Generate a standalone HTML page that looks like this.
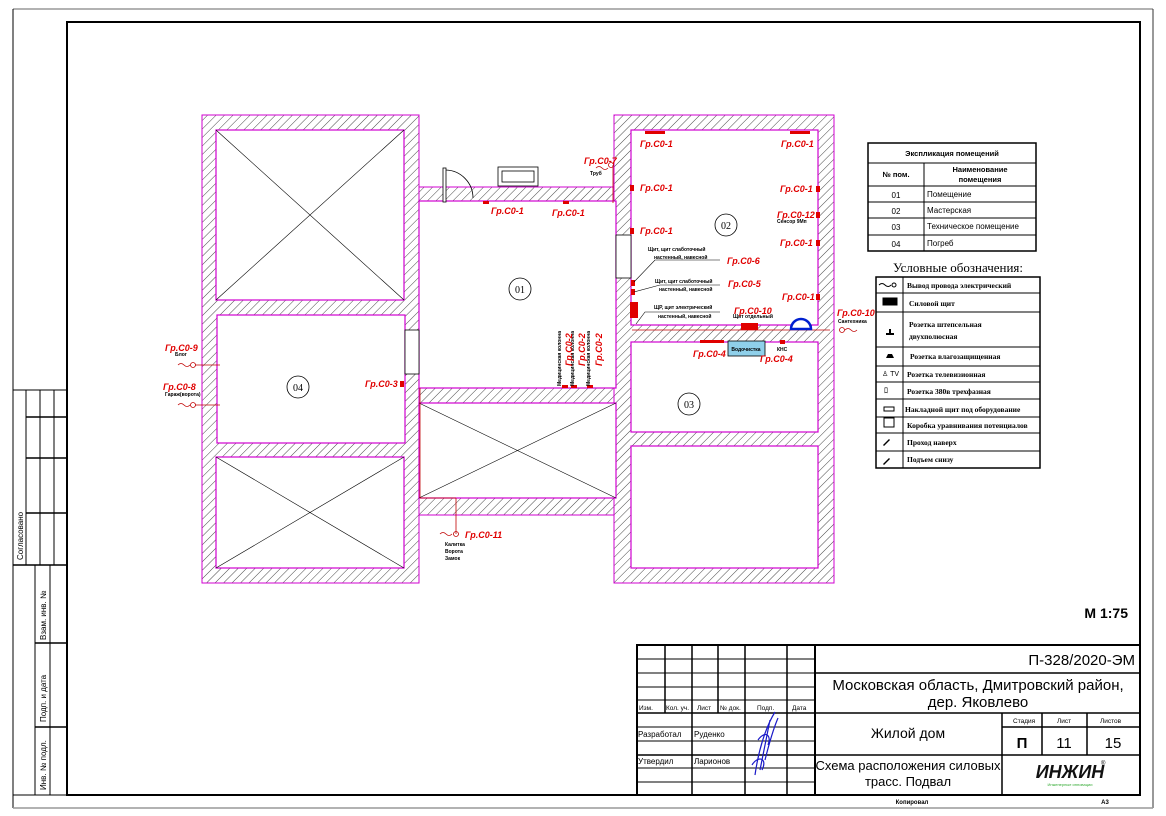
<!DOCTYPE html>
<html><head><meta charset="utf-8"><style>
html,body{margin:0;padding:0;background:#fff;}
svg{display:block;font-family:"Liberation Sans",sans-serif;}
.r{fill:#e00000;font-style:italic;font-weight:bold;font-size:9px;}
.s{fill:#000;font-size:5px;font-weight:bold;}
.t{font-size:8px;fill:#000;}
.lg{font-family:"Liberation Serif",serif;font-size:7.5px;font-weight:bold;fill:#000;}
</style></head><body>
<svg width="1166" height="816" viewBox="0 0 1166 816" xmlns="http://www.w3.org/2000/svg">
<defs>
<pattern id="h" patternUnits="userSpaceOnUse" width="6" height="6" patternTransform="rotate(45)">
<rect width="6" height="6" fill="#fff"/><line x1="0" y1="0" x2="0" y2="6" stroke="#333" stroke-width="0.9"/>
</pattern>
</defs>
<rect width="1166" height="816" fill="#fff"/>
<!-- page border -->
<line x1="13" y1="9" x2="1153" y2="9" stroke="#999" stroke-width="1.5"/>
<line x1="1153" y1="9" x2="1153" y2="808" stroke="#333" stroke-width="1"/>
<line x1="13" y1="9" x2="13" y2="808" stroke="#000" stroke-width="1"/>
<line x1="13" y1="808" x2="1153" y2="808" stroke="#999" stroke-width="1.5"/>
<!-- frame -->
<rect x="67" y="22" width="1073" height="773" fill="none" stroke="#000" stroke-width="2"/>

<!-- left strip -->
<g stroke="#000" stroke-width="1" fill="none">
<rect x="13" y="390" width="54" height="405"/>
<line x1="26" y1="390" x2="26" y2="565"/>
<line x1="40" y1="390" x2="40" y2="565"/>
<line x1="54" y1="390" x2="54" y2="565"/>
<line x1="26" y1="417" x2="67" y2="417" stroke-width="1.5"/>
<line x1="26" y1="458" x2="67" y2="458" stroke-width="1.5"/>
<line x1="26" y1="513" x2="67" y2="513" stroke-width="1.5"/>
<line x1="13" y1="565" x2="67" y2="565" stroke-width="1.5"/>
<line x1="35" y1="565" x2="35" y2="795"/>
<line x1="50" y1="565" x2="50" y2="795"/>
<line x1="35" y1="643" x2="67" y2="643" stroke-width="1.5"/>
<line x1="35" y1="727" x2="67" y2="727" stroke-width="1.5"/>
</g>
<g class="t" font-size="8">
<text transform="translate(23,560) rotate(-90)">Согласовано</text>
<text transform="translate(46,640) rotate(-90)">Взам. инв. №</text>
<text transform="translate(46,722) rotate(-90)">Подп. и дата</text>
<text transform="translate(46,790) rotate(-90)">Инв. № подл.</text>
</g>

<!-- walls hatched -->
<g fill="url(#h)" stroke="#d000d0" stroke-width="1">
<rect x="202" y="115" width="217" height="468"/>
<rect x="614" y="115" width="220" height="468"/>
<rect x="419" y="187" width="195" height="328"/>
</g>
<!-- rooms -->
<g fill="#fff" stroke="#d000d0" stroke-width="1.2">
<rect x="216" y="130" width="188" height="170"/>
<rect x="217" y="315" width="188" height="128"/>
<rect x="216" y="457" width="188" height="111"/>
<rect x="419" y="201" width="197" height="187"/>
<rect x="419" y="403" width="197" height="95"/>
<rect x="631" y="130" width="187" height="195"/>
<rect x="631" y="342" width="187" height="90"/>
<rect x="631" y="446" width="187" height="122"/>
</g>
<!-- crosses -->
<g stroke="#000" stroke-width="0.6">
<line x1="216" y1="130" x2="404" y2="300"/><line x1="404" y1="130" x2="216" y2="300"/>
<line x1="216" y1="457" x2="404" y2="568"/><line x1="404" y1="457" x2="216" y2="568"/>
<line x1="419" y1="403" x2="616" y2="498"/><line x1="616" y1="403" x2="419" y2="498"/>
</g>
<!-- door, window, openings -->
<g stroke="#000" stroke-width="0.8" fill="#fff">
<rect x="443" y="168" width="3" height="34"/>
<path d="M446 170 A 28 28 0 0 1 473 198" fill="none"/>
<rect x="498" y="167" width="40" height="19"/>
<rect x="502" y="171" width="32" height="11"/>
<rect x="405" y="330" width="14" height="44"/>
<rect x="616" y="235" width="15" height="43"/>
</g>
<!-- room circles -->
<g fill="#fff" stroke="#000" stroke-width="0.8">
<circle cx="520" cy="289" r="11"/><circle cx="726" cy="225" r="11"/>
<circle cx="689" cy="404" r="11"/><circle cx="298" cy="387" r="11"/>
</g>
<g font-family="Liberation Serif,serif" font-size="10" text-anchor="middle">
<text x="520" y="293">01</text><text x="726" y="229">02</text>
<text x="689" y="408">03</text><text x="298" y="391">04</text>
</g>

<!-- wiring lines -->
<g stroke="#c00000" stroke-width="0.8" fill="none">
<line x1="632" y1="330" x2="830" y2="330"/>
<line x1="613" y1="203" x2="613" y2="165"/>
<line x1="195" y1="365" x2="220" y2="365"/>
<line x1="195" y1="405" x2="220" y2="405"/>
<line x1="420" y1="498" x2="456" y2="498"/><line x1="456" y1="498" x2="456" y2="534"/>
<line x1="420" y1="388" x2="420" y2="498"/>
<path d="M596 168 q3 -3 6 0 t6 0" /><circle cx="611" cy="165" r="2.5"/>
<path d="M178 365 q3 -3 6 0 t6 0"/><circle cx="193" cy="365" r="2.5"/>
<path d="M178 405 q3 -3 6 0 t6 0"/><circle cx="193" cy="405" r="2.5"/>
<path d="M440 534 q3 -3 6 0 t6 0"/><circle cx="456" cy="534" r="2.5"/>
<path d="M845 330 q3 -3 6 0 t6 0"/><circle cx="842" cy="330" r="2.5"/>
</g>
<!-- red sockets -->
<g fill="#e00000">
<rect x="645" y="131" width="20" height="3"/><rect x="790" y="131" width="20" height="3"/>
<rect x="630" y="185" width="4" height="6"/><rect x="630" y="228" width="4" height="6"/>
<rect x="816" y="186" width="4" height="6"/><rect x="816" y="212" width="4" height="6"/>
<rect x="816" y="240" width="4" height="6"/><rect x="816" y="294" width="4" height="6"/>
<rect x="483" y="201" width="6" height="3"/><rect x="563" y="201" width="6" height="3"/>
<rect x="400" y="381" width="4" height="6"/>
<rect x="562" y="385" width="6" height="3"/><rect x="571" y="385" width="6" height="3"/><rect x="587" y="385" width="6" height="3"/>
<rect x="700" y="340" width="24" height="3"/><rect x="780" y="340" width="5" height="4"/>
<rect x="741" y="323" width="17" height="7"/>
<rect x="630" y="302" width="8" height="16"/>
<rect x="631" y="280" width="4" height="6"/><rect x="631" y="289" width="4" height="6"/>
</g>
<!-- blue devices -->
<path d="M791 329 A10 10 0 0 1 811 329 Z" fill="#fff" stroke="#0020d0" stroke-width="2.5"/>
<rect x="728" y="341" width="37" height="15" fill="#8fd0ea" stroke="#000" stroke-width="0.8"/>
<text x="746" y="351" class="s" text-anchor="middle">Водочистка</text>

<!-- leader lines for panels -->
<g stroke="#000" stroke-width="0.6" fill="none">
<polyline points="634,282 655,260 720,260"/>
<polyline points="634,292 660,285 720,285"/>
<polyline points="636,324 645,312 720,312"/>
</g>
<g class="s">
<text x="648" y="251">Щит, щит слаботочный</text><text x="654" y="259">настенный, навесной</text>
<text x="655" y="283">Щит, щит слаботочный</text><text x="659" y="291">настенный, навесной</text>
<text x="654" y="309">ЩР, щит электрический</text><text x="658" y="318">настенный, навесной</text>
<text x="777" y="223">Сенсор 9Мп</text><text x="733" y="318">Щит отдельный</text>
<text x="838" y="323">Сантехника</text><text x="777" y="351">КНС</text>
<text x="590" y="175">Труб</text><text x="175" y="356">Блог</text><text x="165" y="396">Гараж(ворота)</text>
<text x="445" y="546">Калитка</text><text x="445" y="553">Ворота</text><text x="445" y="560">Замок</text>
</g>
<g class="s">
<text transform="translate(561,386) rotate(-90)">Медицинская колонна</text>
<text transform="translate(574,386) rotate(-90)">Медицинская колонна</text>
<text transform="translate(590,386) rotate(-90)">Медицинская колонна</text>
</g>

<!-- red labels -->
<g class="r">
<text x="640" y="147">Гр.С0-1</text><text x="781" y="147">Гр.С0-1</text>
<text x="640" y="191">Гр.С0-1</text><text x="640" y="234">Гр.С0-1</text>
<text x="780" y="192">Гр.С0-1</text><text x="777" y="218">Гр.С0-12</text>
<text x="780" y="246">Гр.С0-1</text><text x="782" y="300">Гр.С0-1</text>
<text x="727" y="264">Гр.С0-6</text><text x="728" y="287">Гр.С0-5</text>
<text x="734" y="314">Гр.С0-10</text><text x="837" y="316">Гр.С0-10</text>
<text x="693" y="357">Гр.С0-4</text><text x="760" y="362">Гр.С0-4</text>
<text x="584" y="164">Гр.С0-7</text><text x="491" y="214">Гр.С0-1</text><text x="552" y="216">Гр.С0-1</text>
<text x="165" y="351">Гр.С0-9</text><text x="163" y="390">Гр.С0-8</text>
<text x="365" y="387">Гр.С0-3</text><text x="465" y="538">Гр.С0-11</text>
<text transform="translate(572,366) rotate(-90)">Гр.С0-2</text>
<text transform="translate(585,366) rotate(-90)">Гр.С0-2</text>
<text transform="translate(602,366) rotate(-90)">Гр.С0-2</text>
</g>

<!-- explication table -->
<g stroke="#000" fill="none">
<rect x="868" y="143" width="168" height="108" stroke-width="1.5"/>
<line x1="868" y1="163" x2="1036" y2="163"/><line x1="868" y1="186" x2="1036" y2="186"/>
<line x1="868" y1="202" x2="1036" y2="202"/><line x1="868" y1="218" x2="1036" y2="218"/>
<line x1="868" y1="235" x2="1036" y2="235"/><line x1="924" y1="163" x2="924" y2="251"/>
</g>
<g font-size="7.5" font-weight="bold">
<text x="952" y="156" text-anchor="middle">Экспликация помещений</text>
<text x="896" y="177" text-anchor="middle">№ пом.</text>
<text x="980" y="172" text-anchor="middle">Наименование</text>
<text x="980" y="182" text-anchor="middle">помещения</text>
</g>
<g font-size="8">
<text x="896" y="198" text-anchor="middle">01</text><text x="927" y="197">Помещение</text>
<text x="896" y="214" text-anchor="middle">02</text><text x="927" y="213">Мастерская</text>
<text x="896" y="230" text-anchor="middle">03</text><text x="927" y="229">Техническое помещение</text>
<text x="896" y="247" text-anchor="middle">04</text><text x="927" y="246">Погреб</text>
</g>
<text x="958" y="272" font-family="Liberation Serif,serif" font-size="13" text-anchor="middle">Условные обозначения:</text>
<!-- legend -->
<g stroke="#000" fill="none">
<rect x="876" y="277" width="164" height="191" stroke-width="1.5"/>
<line x1="903" y1="277" x2="903" y2="468"/>
<line x1="876" y1="293" x2="1040" y2="293"/><line x1="876" y1="312" x2="1040" y2="312"/>
<line x1="876" y1="347" x2="1040" y2="347"/><line x1="876" y1="366" x2="1040" y2="366"/>
<line x1="876" y1="382" x2="1040" y2="382"/><line x1="876" y1="399" x2="1040" y2="399"/>
<line x1="876" y1="417" x2="1040" y2="417"/><line x1="876" y1="433" x2="1040" y2="433"/>
<line x1="876" y1="451" x2="1040" y2="451"/>
<path d="M879 285 q3 -3 6 0 t6 0" stroke-width="1"/><circle cx="894" cy="285" r="2"/>
<rect x="883" y="298" width="14" height="7" fill="#000"/>
<rect x="884" y="407" width="10" height="4"/>
<rect x="884" y="418" width="10" height="9"/>
</g>
<g fill="#000">
<path d="M886 335 h8 v-2 h-8z M889 333 v-4 h2 v4z"/>
<path d="M886 358 h8 l-2 -4 h-4z"/>
<path d="M883 445 l6 -6 l1 1 l-6 6z"/>
<path d="M883 464 l6 -6 l1 1 l-6 6z"/>
</g>
<text x="882" y="376" font-size="7">♙ TV</text><text x="884" y="393" font-size="8">ﾛ</text>
<g class="lg">
<text x="907" y="288">Вывод провода электрический</text>
<text x="909" y="306">Силовой щит</text>
<text x="909" y="327">Розетка штепсельная</text>
<text x="909" y="339">двухполюсная</text>
<text x="910" y="359">Розетка влагозащищенная</text>
<text x="907" y="377">Розетка телевизионная</text>
<text x="907" y="394">Розетка 380в трехфазная</text>
<text x="905" y="412">Накладной щит под оборудование</text>
<text x="907" y="428">Коробка уравнивания потенциалов</text>
<text x="907" y="445">Проход наверх</text>
<text x="907" y="462">Подъем снизу</text>
</g>

<text x="1128" y="618" font-size="14" font-weight="bold" text-anchor="end">М 1:75</text>

<!-- title block -->
<g stroke="#000" fill="none">
<rect x="637" y="645" width="503" height="150" stroke-width="2"/>
<line x1="815" y1="645" x2="815" y2="795" stroke-width="2"/>
<g stroke-width="1">
<line x1="637" y1="659" x2="815" y2="659"/><line x1="637" y1="673" x2="815" y2="673"/>
<line x1="637" y1="687" x2="815" y2="687"/><line x1="637" y1="700" x2="815" y2="700"/>
<line x1="637" y1="727" x2="815" y2="727"/><line x1="637" y1="741" x2="815" y2="741"/>
<line x1="637" y1="768" x2="815" y2="768"/><line x1="637" y1="782" x2="815" y2="782"/>
</g>
<g stroke-width="1.5">
<line x1="637" y1="713" x2="815" y2="713"/><line x1="637" y1="755" x2="815" y2="755"/>
<line x1="665" y1="645" x2="665" y2="713"/><line x1="692" y1="645" x2="692" y2="795"/>
<line x1="718" y1="645" x2="718" y2="713"/><line x1="745" y1="645" x2="745" y2="795"/>
<line x1="787" y1="645" x2="787" y2="795"/>
<line x1="815" y1="673" x2="1140" y2="673"/><line x1="815" y1="713" x2="1140" y2="713"/>
<line x1="815" y1="755" x2="1140" y2="755"/>
<line x1="1002" y1="713" x2="1002" y2="795"/><line x1="1042" y1="713" x2="1042" y2="755"/>
<line x1="1087" y1="713" x2="1087" y2="755"/><line x1="1002" y1="727" x2="1140" y2="727"/>
</g>
</g>
<g font-size="6.5">
<text x="639" y="710">Изм.</text><text x="666" y="710">Кол. уч.</text><text x="697" y="710">Лист</text>
<text x="720" y="710">№ док.</text><text x="757" y="710">Подп.</text><text x="792" y="710">Дата</text>
<text x="638" y="737" font-size="8">Разработал</text><text x="694" y="737" font-size="8">Руденко</text>
<text x="638" y="764" font-size="8">Утвердил</text><text x="694" y="764" font-size="8">Ларионов</text>
<text x="1013" y="723">Стадия</text><text x="1057" y="723">Лист</text><text x="1100" y="723">Листов</text>
</g>
<path d="M755 775 C760 740 770 720 775 712 M760 770 C765 745 768 730 770 720 M765 760 C770 740 775 725 778 718 M758 740 C765 730 772 735 768 745 M752 765 C758 755 768 758 762 770" stroke="#1a1ac8" stroke-width="1.2" fill="none"/>
<text x="1135" y="665" font-size="15" text-anchor="end">П-328/2020-ЭМ</text>
<text x="978" y="690" font-size="15" text-anchor="middle">Московская область, Дмитровский район,</text>
<text x="978" y="707" font-size="15" text-anchor="middle">дер. Яковлево</text>
<text x="908" y="738" font-size="14" text-anchor="middle">Жилой дом</text>
<text x="1022" y="748" font-size="15" font-weight="bold" text-anchor="middle">П</text>
<text x="1064" y="748" font-size="15" text-anchor="middle">11</text>
<text x="1113" y="748" font-size="15" text-anchor="middle">15</text>
<text x="908" y="770" font-size="13" text-anchor="middle">Схема расположения силовых</text>
<text x="908" y="786" font-size="13" text-anchor="middle">трасс. Подвал</text>
<text x="1070" y="778" font-size="18" font-weight="bold" font-style="italic" text-anchor="middle" fill="#111">ИНЖИН</text>
<text x="1101" y="765" font-size="6">®</text>
<text x="1070" y="786" font-size="4" fill="#3a3" text-anchor="middle">Инженерные инновации</text>
<text x="912" y="804" font-size="6" font-weight="bold" text-anchor="middle">Копировал</text>
<text x="1105" y="804" font-size="6" font-weight="bold" text-anchor="middle">А3</text>
</svg>
</body></html>
